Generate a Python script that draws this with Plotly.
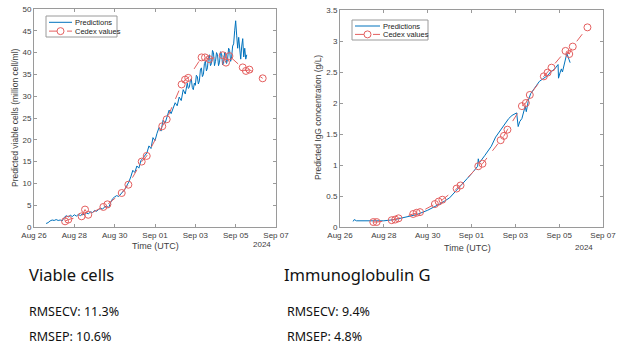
import pandas as pd
import plotly.graph_objects as go

START = pd.Timestamp("2024-08-26")

# ---- Viable cells (left) ----
vc_pred_days = [0.60, 0.70, 0.80, 0.90, 1.00, 1.10, 1.20, 1.30, 1.40, 1.50, 1.60, 1.70, 1.80, 1.90,
                2.00, 2.10, 2.20, 2.30, 2.40, 2.50, 2.60, 2.70, 2.80, 2.90, 3.00, 3.10, 3.20, 3.30,
                3.40, 3.50, 3.60, 3.70, 3.80, 3.90, 4.00, 4.10, 4.20, 4.30, 4.40, 4.50, 4.60, 4.70,
                4.80, 4.90, 5.00, 5.10, 5.20, 5.30, 5.40, 5.50, 5.60, 5.70, 5.80, 5.90, 6.00, 6.10,
                6.20, 6.30, 6.40, 6.50, 6.60, 6.70, 6.80, 6.90, 7.00, 7.10, 7.20, 7.30, 7.40,
                7.50, 7.55, 7.60, 7.65, 7.70, 7.75, 7.80, 7.85, 7.90, 7.95, 8.00, 8.05, 8.10, 8.15,
                8.20, 8.25, 8.30, 8.35, 8.40, 8.45, 8.50, 8.55, 8.60, 8.65, 8.70, 8.75, 8.80, 8.85,
                8.90, 8.95, 9.00, 9.05, 9.10, 9.15, 9.20, 9.25, 9.30, 9.35, 9.40, 9.45, 9.50, 9.55,
                9.60, 9.65, 9.70, 9.75, 9.80, 9.85, 9.90, 9.95, 10.00, 10.05, 10.10,
                10.15, 10.20, 10.25, 10.30, 10.35, 10.40, 10.45, 10.50, 10.55]
vc_pred_vals = [0.8, 1.0, 1.4, 1.6, 1.5, 1.7, 1.5, 1.6, 1.4, 2.2, 2.6, 2.3, 2.7, 2.4,
                2.8, 2.5, 2.9, 2.6, 3.0, 2.8, 3.2, 3.0, 3.5, 3.3, 3.8, 3.6, 4.0, 4.3,
                4.1, 4.6, 4.8, 4.4, 5.6, 6.5, 6.9, 7.2, 7.0, 7.6, 8.0, 8.6, 9.5, 10.3,
                11.5, 13.0, 12.5, 14.0, 13.5, 15.2, 15.8, 16.5, 17.0, 18.6, 18.0, 20.5, 19.8, 21.5,
                22.8, 22.0, 24.5, 23.8, 25.5, 26.8, 26.0, 27.5, 28.5, 27.8, 29.8, 29.0, 31.5,
                30.5, 32.0, 33.0, 31.8, 32.0, 33.5, 34.0, 32.0, 31.5, 33.0, 32.5, 34.8, 34.5, 32.8,
                33.5, 36.0, 36.5, 34.5, 35.0, 37.5, 38.0, 35.8, 36.5, 39.0, 39.5, 37.0, 37.5, 40.5,
                40.0, 37.0, 38.0, 40.0, 39.5, 37.0, 37.8, 40.2, 39.8, 37.2, 37.5, 40.0, 40.0, 37.5,
                38.5, 41.0, 40.5, 38.0, 39.0, 41.5, 42.0, 45.0, 47.3, 44.0, 41.0,
                43.5, 40.0, 38.5, 41.5, 43.2, 39.0, 41.0, 38.5, 39.5]
vc_cedex_days = [1.54, 1.70, 2.36, 2.53, 2.69, 3.44, 3.64, 4.35, 4.68, 5.34, 5.59, 6.36, 6.58,
                 7.32, 7.49, 7.65, 8.31, 8.48, 8.69, 9.36, 9.52, 9.69, 10.35, 10.51, 10.68, 11.34]
vc_cedex_vals = [1.3, 1.7, 2.45, 4.0, 2.8, 4.6, 5.2, 7.8, 9.7, 15.0, 16.3, 23.1, 24.7,
                 32.7, 33.8, 34.2, 38.9, 38.9, 38.5, 39.4, 37.7, 39.2, 36.6, 35.8, 36.1, 34.1]

# ---- IgG (right) ----
igg_pred_days = [0.60, 0.65, 0.75, 1.00, 1.50, 2.00, 2.50, 3.00, 3.50, 4.00, 4.30, 4.60, 5.00,
                 5.30, 5.50, 5.80, 6.10, 6.28, 6.31, 6.35, 6.60, 6.90, 7.10, 7.30, 7.50, 7.70,
                 7.85, 8.00, 8.06, 8.13, 8.20, 8.30, 8.40, 8.45, 8.50, 8.60, 8.70, 8.90, 9.10,
                 9.30, 9.50, 9.60, 9.80, 9.95, 9.97, 10.05, 10.10, 10.15, 10.25, 10.35, 10.45, 10.50]
igg_pred_vals = [0.09, 0.12, 0.10, 0.10, 0.09, 0.10, 0.12, 0.16, 0.20, 0.27, 0.32, 0.38, 0.47,
                 0.58, 0.66, 0.78, 0.90, 0.98, 1.10, 1.03, 1.15, 1.30, 1.45, 1.55, 1.65, 1.75,
                 1.80, 1.82, 1.84, 1.62, 1.70, 1.75, 1.90, 1.95, 1.86, 2.05, 2.15, 2.25, 2.35,
                 2.40, 2.45, 2.50, 2.55, 2.62, 2.40, 2.50, 2.55, 2.50, 2.65, 2.80, 2.70, 2.65]
igg_cedex_days = [1.52, 1.67, 2.36, 2.52, 2.67, 3.34, 3.50, 3.65, 4.33, 4.50, 4.67, 5.32, 5.50,
                  6.31, 6.50, 7.33, 7.48, 7.64, 8.30, 8.48, 8.66, 9.30, 9.47, 9.65, 10.29, 10.46,
                  10.62, 11.29]
igg_cedex_vals = [0.08, 0.08, 0.11, 0.12, 0.14, 0.21, 0.23, 0.24, 0.37, 0.41, 0.44, 0.62, 0.67,
                  0.98, 1.02, 1.40, 1.47, 1.57, 1.95, 2.00, 2.13, 2.43, 2.49, 2.57, 2.84, 2.79,
                  2.91, 3.22]

x_range_days = [0, 12]
x_tick_step_days = 2
legend_labels = ["Predictions", "Cedex values"]


def to_time(days):
    return [START + pd.Timedelta(days=d) for d in days]


BLUE = "#0072BD"
RED = "rgb(228,95,95)"
TXT = "#404040"
AXF = "Liberation Sans, Arial, sans-serif"
W, H = 624, 350


def px(x):
    return x / W


def py(y):
    return 1 - y / H


fig = go.Figure()

fig.add_trace(go.Scatter(x=to_time(vc_pred_days), y=vc_pred_vals, mode="lines", name=legend_labels[0],
                         line=dict(color=BLUE, width=1), xaxis="x", yaxis="y"))
fig.add_trace(go.Scatter(x=to_time(vc_cedex_days), y=vc_cedex_vals, mode="lines+markers", name=legend_labels[1],
                         line=dict(color=RED, width=1, dash="dash"),
                         marker=dict(symbol="circle-open", size=7, color=RED, line=dict(width=1)),
                         xaxis="x", yaxis="y"))
fig.add_trace(go.Scatter(x=to_time(igg_pred_days), y=igg_pred_vals, mode="lines", name=legend_labels[0],
                         line=dict(color=BLUE, width=1), xaxis="x2", yaxis="y2"))
fig.add_trace(go.Scatter(x=to_time(igg_cedex_days), y=igg_cedex_vals, mode="lines+markers", name=legend_labels[1],
                         line=dict(color=RED, width=1, dash="dash"),
                         marker=dict(symbol="circle-open", size=7, color=RED, line=dict(width=1)),
                         xaxis="x2", yaxis="y2"))

xr = to_time(x_range_days)
common_x = dict(type="date", range=xr, tick0=START, dtick=x_tick_step_days * 86400000,
                tickformat="%b %d", ticks="inside", ticklen=3, showline=True, mirror="ticks",
                linecolor="#9a9a9a", linewidth=1, tickcolor="#9a9a9a", showgrid=False, zeroline=False,
                tickfont=dict(family=AXF, size=8, color=TXT), fixedrange=True, automargin=False)
common_y = dict(ticks="inside", ticklen=3, showline=True, mirror="ticks", linecolor="#9a9a9a",
                linewidth=1, tickcolor="#9a9a9a", showgrid=False, zeroline=False,
                tickfont=dict(family=AXF, size=8, color=TXT), fixedrange=True, automargin=False)

fig.update_layout(
    width=W, height=H, margin=dict(l=0, r=0, t=0, b=0, autoexpand=False),
    paper_bgcolor="white", plot_bgcolor="white",
    xaxis=dict(common_x, domain=[px(34), px(276)], anchor="y"),
    yaxis=dict(common_y, domain=[py(227), py(9)], range=[0, 50], dtick=5, anchor="x"),
    xaxis2=dict(common_x, domain=[px(340), px(603)], anchor="y2"),
    yaxis2=dict(common_y, domain=[py(227), py(10)], range=[0, 3.5], dtick=0.5, anchor="x2"),
    showlegend=False,
)

shapes = []
ann = []


def add_legend(x0, y0, x1, y1, line_x0, line_x1, text_x):
    shapes.append(dict(type="rect", xref="paper", yref="paper", x0=px(x0), x1=px(x1), y0=py(y1), y1=py(y0),
                       line=dict(color="#9a9a9a", width=1), fillcolor="white", layer="above"))
    r1 = y0 + (y1 - y0) * 0.3
    r2 = y0 + (y1 - y0) * 0.72
    shapes.append(dict(type="line", xref="paper", yref="paper", x0=px(line_x0), x1=px(line_x1), y0=py(r1), y1=py(r1),
                       line=dict(color=BLUE, width=1), layer="above"))
    shapes.append(dict(type="line", xref="paper", yref="paper", x0=px(line_x0), x1=px(line_x1), y0=py(r2), y1=py(r2),
                       line=dict(color=RED, width=1, dash="dash"), layer="above"))
    cx = (line_x0 + line_x1) / 2
    shapes.append(dict(type="circle", xref="paper", yref="paper", x0=px(cx - 3.5), x1=px(cx + 3.5),
                       y0=py(r2 + 3.5), y1=py(r2 - 3.5), line=dict(color=RED, width=1),
                       fillcolor="white", layer="above"))
    for lab, r in zip(legend_labels, [r1, r2]):
        ann.append(dict(text=lab, x=px(text_x), y=py(r), xanchor="left",
                        font=dict(family=AXF, size=7.5, color="#222")))


add_legend(46, 16, 117, 37, 49, 72, 73)
add_legend(352, 20, 428, 40, 355, 380, 381)

# axis titles
ann.append(dict(text="Predicted viable cells (million cell/ml)", x=px(15), y=py(118), textangle=-90,
                font=dict(family=AXF, size=8.5, color=TXT)))
ann.append(dict(text="Predicted IgG concentration (g/L)", x=px(318), y=py(118), textangle=-90,
                font=dict(family=AXF, size=8.5, color=TXT)))
ann.append(dict(text="Time (UTC)", x=px(155), y=py(246), font=dict(family=AXF, size=9, color=TXT)))
ann.append(dict(text="Time (UTC)", x=px(467), y=py(248), font=dict(family=AXF, size=9, color=TXT)))
ann.append(dict(text="2024", x=px(262), y=py(245), font=dict(family=AXF, size=8, color=TXT)))
ann.append(dict(text="2024", x=px(584), y=py(248), font=dict(family=AXF, size=8, color=TXT)))
# bottom texts
BF = "Noto Sans, Open Sans, sans-serif"
ann.append(dict(text="Viable cells", x=px(27), y=py(274), xanchor="left", font=dict(family=BF, size=16.5, color="#111")))
ann.append(dict(text="RMSECV: 11.3%", x=px(27), y=py(311), xanchor="left", font=dict(family=BF, size=12.5, color="#111")))
ann.append(dict(text="RMSEP: 10.6%", x=px(27), y=py(336), xanchor="left", font=dict(family=BF, size=12.5, color="#111")))
ann.append(dict(text="Immunoglobulin G", x=px(282), y=py(274), xanchor="left", font=dict(family=BF, size=16.5, color="#111")))
ann.append(dict(text="RMSECV: 9.4%", x=px(285), y=py(311), xanchor="left", font=dict(family=BF, size=12.5, color="#111")))
ann.append(dict(text="RMSEP: 4.8%", x=px(285), y=py(336), xanchor="left", font=dict(family=BF, size=12.5, color="#111")))
for a in ann:
    a.update(xref="paper", yref="paper", showarrow=False)
    a.setdefault("xanchor", "center")
    a.setdefault("yanchor", "middle")
fig.update_layout(annotations=ann, shapes=shapes)

fig.write_html("out.html", config={"displayModeBar": False})
